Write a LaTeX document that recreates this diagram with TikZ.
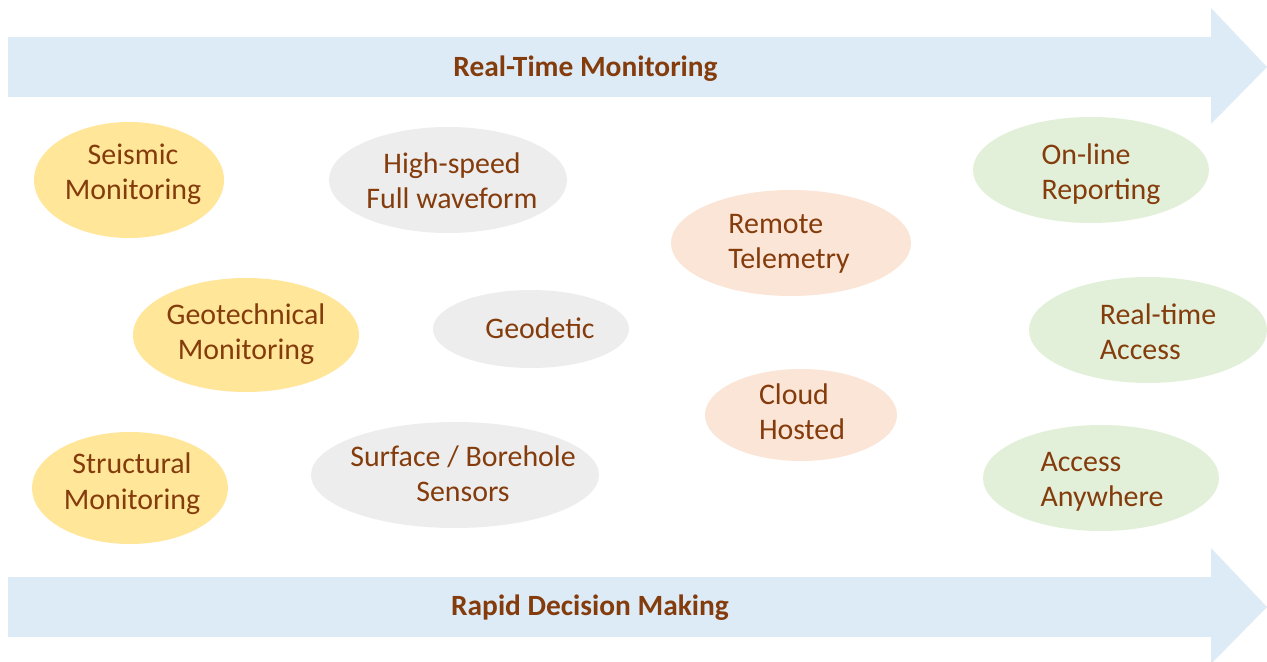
\documentclass[tikz,border=0pt]{standalone}
\usepackage{fontspec}
\setmainfont{Carlito}
\usetikzlibrary{shapes.geometric}
\definecolor{arrowblue}{HTML}{DDEBF7}
\definecolor{txtbrown}{HTML}{843C0C}
\definecolor{yel}{HTML}{FFE699}
\definecolor{gry}{HTML}{EDEDED}
\definecolor{pch}{HTML}{FBE5D6}
\definecolor{grn}{HTML}{E2F0D9}
\tikzset{
  el/.style={ellipse, draw=none, inner sep=0pt},
  lbl/.style={text=txtbrown, font=\fontsize{30}{35.5}\selectfont, inner sep=0pt, align=center},
  lbll/.style={lbl, align=left},
  ttl/.style={text=txtbrown, font=\fontsize{29.5}{35}\selectfont\bfseries, inner sep=0pt, anchor=base},
  band/.style={fill=arrowblue, draw=none}
}
\begin{document}
\begin{tikzpicture}[x=1bp,y=-1bp]
\useasboundingbox (0,0) rectangle (1267,662);
\fill[white] (0,0) rectangle (1267,662);
% arrows
\fill[band] (8,37) -- (1211,37) -- (1211,8) -- (1267,67) -- (1211,124) -- (1211,97) -- (8,97) -- cycle;
\fill[band] (8,577) -- (1211,577) -- (1211,548) -- (1267,607) -- (1211,664) -- (1211,637) -- (8,637) -- cycle;
\node[ttl] (top) at (585.5,76.5) {Real-Time Monitoring};
\node[ttl] (bot) at (590,615.5) {Rapid Decision Making};
% ellipses
\node[el, fill=yel, minimum width=190bp, minimum height=116bp] (seis) at (129,180) {};
\node[el, fill=yel, minimum width=226bp, minimum height=114bp] (geot) at (246,335) {};
\node[el, fill=yel, minimum width=196bp, minimum height=112bp] (stru) at (130,488) {};
\node[el, fill=gry, minimum width=238bp, minimum height=106bp] (high) at (448,180) {};
\node[el, fill=gry, minimum width=196bp, minimum height=78bp] (geod) at (531,329) {};
\node[el, fill=gry, minimum width=288bp, minimum height=106bp] (surf) at (455,475) {};
\node[el, fill=pch, minimum width=240bp, minimum height=106bp] (remo) at (791,243) {};
\node[el, fill=pch, minimum width=192bp, minimum height=92bp] (clou) at (801,415) {};
\node[el, fill=grn, minimum width=236bp, minimum height=106bp] (onli) at (1091,170) {};
\node[el, fill=grn, minimum width=238bp, minimum height=106bp] (real) at (1148,330) {};
\node[el, fill=grn, minimum width=236bp, minimum height=106bp] (acce) at (1101,478) {};
% labels
\node[lbl] (seisT) at (133,175) {\strut Seismic\\\strut Monitoring};
\node[lbl] (geotT) at (246,335) {\strut Geotechnical\\\strut Monitoring};
\node[lbl] (struT) at (132,484.5) {\strut Structural\\\strut Monitoring};
\node[lbl] (highT) at (452,184) {\strut High-speed\\\strut Full waveform};
\node[lbl] (geodT) at (540,331.5) {\strut Geodetic};
\node[lbl] (surfT) at (463,477) {\strut Surface / Borehole\\\strut Sensors};
\node[lbll] (remoT) at (789,244) {\strut Remote\\\strut Telemetry};
\node[lbll] (clouT) at (802,415) {\strut Cloud\\\strut Hosted};
\node[lbll] (onliT) at (1101,175) {\strut On-line\\\strut Reporting};
\node[lbll] (realT) at (1158,335) {\strut Real-time\\\strut Access};
\node[lbll] (acceT) at (1102,482) {\strut Access\\\strut Anywhere};
\end{tikzpicture}
\end{document}
